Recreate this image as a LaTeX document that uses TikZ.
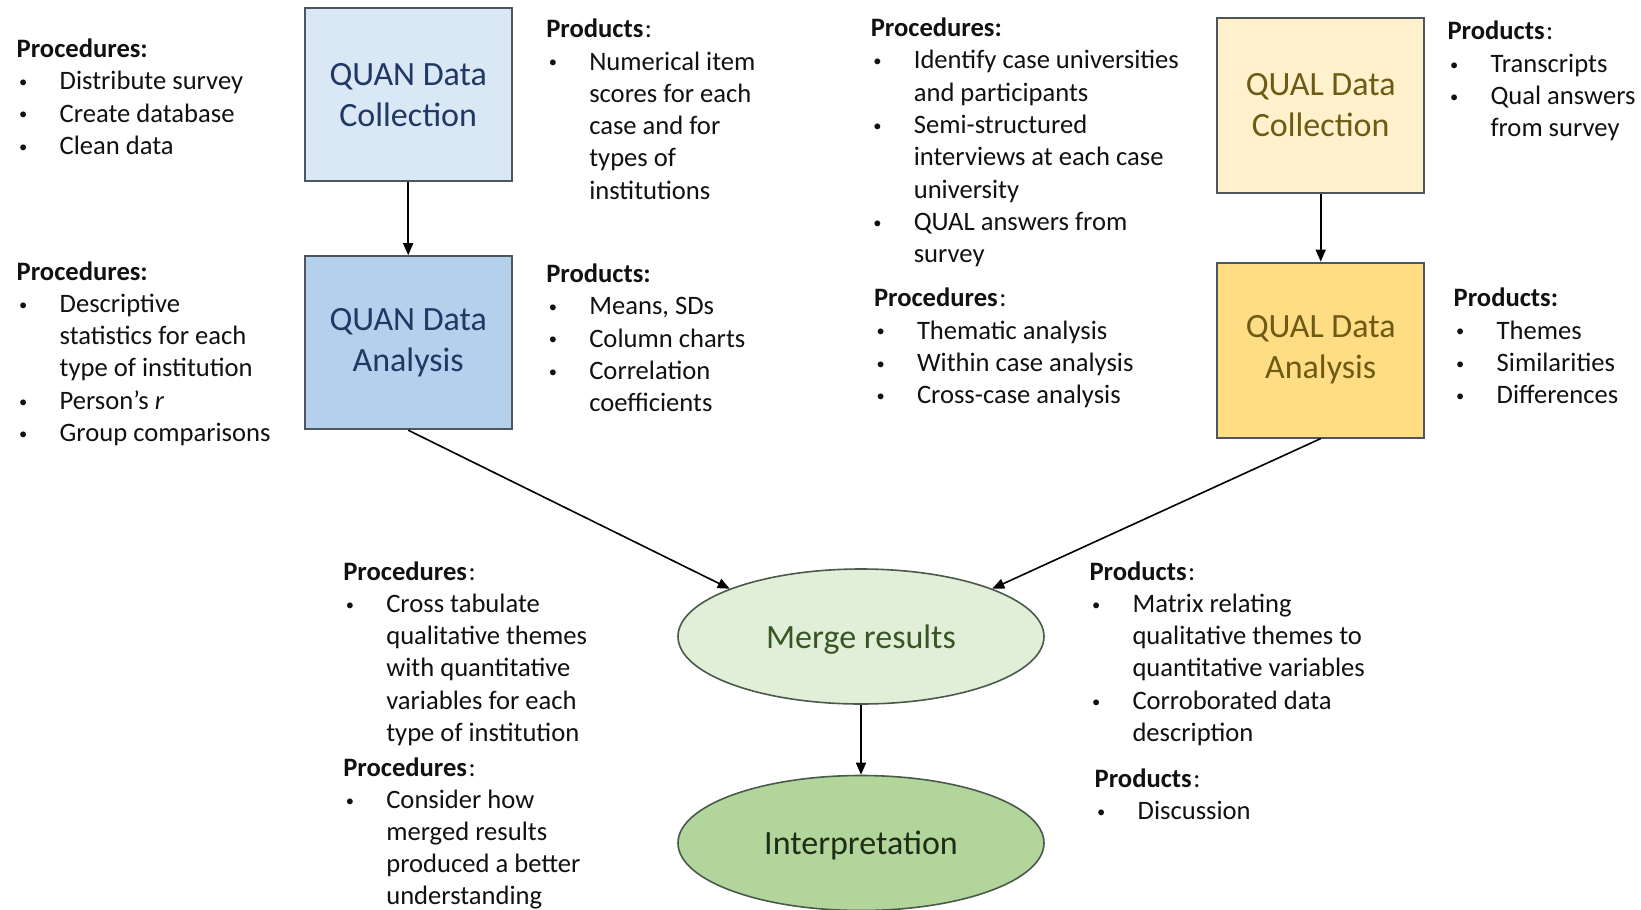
\documentclass[tikz,border=0pt]{standalone}
\usepackage{fontspec}
\usepackage{graphicx}
\setmainfont{Carlito}
\usetikzlibrary{arrows.meta,shapes.geometric}

\definecolor{quanLight}{HTML}{DAE8F6}
\definecolor{quanDark}{HTML}{B4D0EC}
\definecolor{quanText}{HTML}{1F3864}
\definecolor{qualLight}{HTML}{FFF1CB}
\definecolor{qualDark}{HTML}{FFDD85}
\definecolor{qualText}{HTML}{6E5A14}
\definecolor{mergeFill}{HTML}{E1EFD8}
\definecolor{interpFill}{HTML}{B2D59C}
\definecolor{mergeText}{HTML}{375623}
\definecolor{interpText}{HTML}{1E2E16}
\definecolor{boxLine}{HTML}{4F555C}
\definecolor{ellLine}{HTML}{4A5A4A}
\definecolor{bodyText}{HTML}{111111}

% bullet cell and the two kinds of heading (bold colon / plain spaced colon)
\newcommand\bul{\hspace*{2.5pt}\raisebox{2.2pt}{\scalebox{0.62}{\textbullet}}}
\newcommand\hdb[1]{\multicolumn{2}{@{}l@{}}{\textbf{#1:}}}
\newcommand\hdl[1]{\multicolumn{2}{@{}l@{}}{\textbf{#1}\hspace{1.5pt}:}}
\newenvironment{blist}{\renewcommand\arraystretch{1}\begin{tabular}[t]{@{}p{43pt}@{}l@{}}}{\end{tabular}}

\tikzset{
  txt/.style={anchor=base west, inner sep=0pt, outer sep=0pt, text=bodyText,
    font=\fontsize{26.6}{32.3}\selectfont},
  stage/.style={rectangle, draw=boxLine, line width=2pt, minimum width=207pt,
    inner sep=0pt, align=center, font=\fontsize{34}{41}\selectfont},
  oval/.style={ellipse, draw=ellLine, line width=1.6pt, minimum width=366pt,
    minimum height=135pt, inner sep=0pt, text depth=0pt,
    font=\fontsize{34}{41}\selectfont},
  flow/.style={line width=1.6pt, -{Triangle[length=12pt,width=10pt]}}
}

\begin{document}
\begin{tikzpicture}[x=1pt,y=-1pt]
\useasboundingbox (0,0) rectangle (1641,910);
\fill[white] (0,0) rectangle (1641,910);

% stage boxes
\node[stage, minimum height=173pt, fill=quanLight, text=quanText] (quanC) at (408.2,94.7) {QUAN Data\\Collection};
\node[stage, minimum height=173pt, fill=quanDark, text=quanText] (quanA) at (408.2,342.7) {QUAN Data\\Analysis};
\node[stage, minimum height=175pt, fill=qualLight, text=qualText] (qualC) at (1320.7,105.2) {QUAL Data\\Collection};
\node[stage, minimum height=175pt, fill=qualDark, text=qualText] (qualA) at (1320.7,350.1) {QUAL Data\\Analysis};

% merging and interpretation
\node[oval, fill=mergeFill, text=mergeText] (merge) at (861,636.5) {Merge results};
\node[oval, fill=interpFill, text=interpText] (interp) at (861,843) {Interpretation};

% connectors
\draw[flow] (quanC.south) -- (quanA.north);
\draw[flow] (qualC.south) -- (qualA.north);
\draw[flow] (quanA.south) -- (merge.160);
\draw[flow] (qualA.south) -- (merge.20);
\draw[flow] (merge.south) -- (interp.north);

% procedures and products
\node[txt] (procQuanC) at (16.7,57.5) {\begin{blist}
\hdb{Procedures}\\
\bul & Distribute survey\\
\bul & Create database\\
\bul & Clean data
\end{blist}};

\node[txt] (procQuanA) at (16.7,280) {\begin{blist}
\hdb{Procedures}\\
\bul & Descriptive\\
 & statistics for each\\
 & type of institution\\
\bul & Person’s \textit{r}\\
\bul & Group comparisons
\end{blist}};

\node[txt] (prodQuanC) at (546.3,37.8) {\begin{blist}
\hdl{Products}\\
\bul & Numerical item\\
 & scores for each\\
 & case and for\\
 & types of\\
 & institutions
\end{blist}};

\node[txt] (prodQuanA) at (546.3,282.5) {\begin{blist}
\hdb{Products}\\
\bul & Means, SDs\\
\bul & Column charts\\
\bul & Correlation\\
 & coefficients
\end{blist}};

\node[txt] (procQualC) at (870.8,36.7) {\begin{blist}
\hdb{Procedures}\\
\bul & Identify case universities\\
 & and participants\\
\bul & Semi-structured\\
 & interviews at each case\\
 & university\\
\bul & QUAL answers from\\
 & survey
\end{blist}};

\node[txt] (procQualA) at (874,306.7) {\begin{blist}
\hdl{Procedures}\\
\bul & Thematic analysis\\
\bul & Within case analysis\\
\bul & Cross-case analysis
\end{blist}};

\node[txt] (prodQualC) at (1447.5,39.9) {\begin{blist}
\hdl{Products}\\
\bul & Transcripts\\
\bul & Qual answers\\
 & from survey
\end{blist}};

\node[txt] (prodQualA) at (1453.7,306.7) {\begin{blist}
\hdb{Products}\\
\bul & Themes\\
\bul & Similarities\\
\bul & Differences
\end{blist}};

\node[txt] (procMerge) at (343.3,580) {\begin{blist}
\hdl{Procedures}\\
\bul & Cross tabulate\\
 & qualitative themes\\
 & with quantitative\\
 & variables for each\\
 & type of institution
\end{blist}};

\node[txt, font=\fontsize{26.6}{31.9}\selectfont] (procInterp) at (343.3,776.5) {\begin{blist}
\hdl{Procedures}\\
\bul & Consider how\\
 & merged results\\
 & produced a better\\
 & understanding
\end{blist}};

\node[txt] (prodMerge) at (1089.5,580) {\begin{blist}
\hdl{Products}\\
\bul & Matrix relating\\
 & qualitative themes to\\
 & quantitative variables\\
\bul & Corroborated data\\
 & description
\end{blist}};

\node[txt] (prodInterp) at (1094.7,787.1) {\begin{blist}
\hdl{Products}\\
\bul & Discussion
\end{blist}};
\end{tikzpicture}
\end{document}
